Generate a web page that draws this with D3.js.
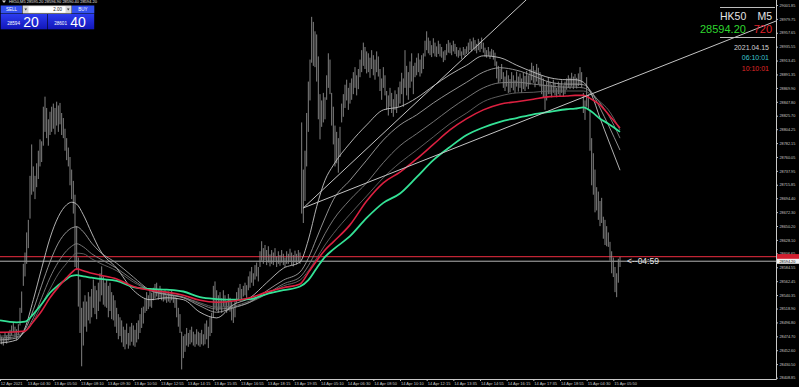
<!DOCTYPE html>
<html><head><meta charset="utf-8">
<script src="https://cdn.jsdelivr.net/npm/d3@7/dist/d3.min.js"></script>
<style>html,body{margin:0;padding:0;background:#000;overflow:hidden}svg{display:block}</style>
</head><body><svg id="c" width="799" height="387"></svg>
<script>
// ---------------- data ----------------
const symbol = "HK50", timeframe = "M5";
const headerText = "HK50,M5  28595.20 28596.90 28590.40 28594.20";
const bid = 28594.20, ask = 28601.40, spreadPts = "720";
const sellBig = ["28594", "20"], buyBig = ["28601", "40"], lotSize = "2.00";
const dateText = "2021.04.15", localTime = "06:10:01", serverTime = "10:10:01", countdown = "<--04:59";

const priceTicks = ["29001.85","28979.75","28957.65","28935.55","28913.45","28891.35","28869.90","28847.80",
  "28825.70","28804.25","28782.15","28760.05","28737.95","28715.85","28694.40","28672.30","28650.20",
  "28628.10","28606.65","28584.55","28562.45","28540.35","28518.90","28496.80","28474.70","28452.60",
  "28430.50","28408.85"];

const timeLabels = ["12 Apr 2021","13 Apr 04:30","13 Apr 05:50","13 Apr 08:10","13 Apr 09:30","13 Apr 10:50",
  "13 Apr 12:55","13 Apr 14:15","13 Apr 15:35","13 Apr 16:55","13 Apr 18:15","13 Apr 19:35","14 Apr 05:10",
  "14 Apr 06:30","14 Apr 08:50","14 Apr 10:10","14 Apr 12:15","14 Apr 13:35","14 Apr 14:55","14 Apr 16:15",
  "14 Apr 17:35","14 Apr 18:55","15 Apr 04:30","15 Apr 05:50"];
const barsPerLabel = 16;

// M5 bars: [high, low]
const bars = [
 [28478,28466],[28474,28462],[28472,28460],[28480,28466],[28476,28463],[28482,28468],
 [28485,28470],[28492,28476],[28496,28481],[28490,28474],[28486,28468],[28494,28476],
 [28520,28492],[28546,28512],
 [28590,28555],[28608,28570],
 [28640,28590],[28660,28615],
 [28730,28662],[28780,28700],
 [28745,28705],[28730,28693],[28750,28712],
 [28770,28725],[28788,28745],[28785,28752],
 [28840,28778],[28856,28800],
 [28838,28790],[28820,28778],[28832,28795],[28840,28800],
 [28845,28805],[28838,28796],[28848,28810],[28842,28800],[28846,28812],
 [28830,28795],[28822,28790],
 [28805,28770],[28790,28755],[28775,28745],
 [28760,28715],[28740,28693],
 [28722,28670],[28700,28585],
 [28650,28580],[28600,28522],
 [28565,28480],[28520,28427],[28530,28460],
 [28540,28490],[28530,28482],[28545,28500],[28538,28495],
 [28550,28505],[28565,28520],[28555,28510],[28548,28502],[28560,28515],
 [28575,28530],[28586,28540],[28570,28525],[28560,28522],
 [28565,28520],[28555,28505],[28560,28515],[28545,28502],[28540,28500],
 [28532,28490],[28520,28480],[28510,28470],[28505,28475],
 [28500,28465],[28490,28458],[28485,28454],[28495,28462],[28480,28455],[28490,28460],[28496,28466],
 [28492,28460],[28485,28458],[28496,28465],[28500,28470],
 [28510,28480],[28520,28488],[28522,28495],
 [28535,28512],[28545,28515],[28540,28518],[28548,28522],[28544,28520],
 [28552,28532],[28558,28535],[28560,28538],[28550,28533],[28555,28536],[28548,28532],
 [28545,28530],[28548,28532],[28540,28528],[28546,28530],[28543,28528],[28548,28532],[28540,28528],[28538,28520],
 [28536,28505],[28520,28490],[28510,28480],
 [28482,28422],[28475,28440],[28478,28450],
 [28488,28460],[28480,28458],[28485,28462],[28490,28465],[28482,28460],[28478,28458],[28486,28462],[28482,28460],
 [28480,28458],[28485,28462],[28478,28460],
 [28495,28462],[28500,28470],[28490,28456],[28505,28475],[28512,28480],
 [28555,28505],[28562,28520],[28548,28515],[28540,28512],
 [28545,28518],[28535,28512],[28548,28522],[28540,28515],[28530,28512],[28542,28516],[28536,28514],
 [28530,28500],[28520,28496],[28532,28505],
 [28545,28528],[28552,28532],[28558,28535],[28550,28533],[28555,28538],[28560,28540],[28556,28536],
 [28570,28548],[28578,28552],[28585,28560],[28575,28555],[28588,28565],[28592,28570],[28585,28562],
 [28610,28585],[28626,28595],[28615,28590],[28620,28596],[28612,28588],
 [28618,28592],[28605,28586],[28612,28590],[28608,28588],[28615,28595],[28602,28585],[28610,28590],
 [28604,28587],[28612,28592],[28606,28588],[28600,28585],[28610,28590],[28606,28590],[28614,28593],
 [28608,28588],[28604,28586],[28611,28592],[28606,28589],[28612,28594],[28608,28590],
 [28815,28670],[28740,28655],
 [28770,28690],
 [28830,28745],[28880,28800],[28915,28850],
 [28983,28910],[28975,28905],[28960,28903],
 [28955,28880],[28920,28820],[28860,28788],
 [28850,28808],[28862,28815],[28855,28820],
 [28890,28851],[28925,28870],[28915,28860],
 [28862,28810],[28840,28780],[28810,28745],[28800,28750],
 [28790,28735],[28808,28760],
 [28845,28815],[28860,28824],[28875,28838],[28883,28850],[28870,28835],[28878,28845],
 [28885,28851],[28895,28860],[28903,28870],[28890,28858],[28900,28868],
 [28915,28887],[28930,28895],[28942,28905],[28935,28900],[28928,28893],
 [28925,28895],[28918,28886],[28930,28900],[28922,28890],[28915,28883],[28928,28895],[28920,28888],
 [28900,28865],[28885,28851],[28903,28870],[28890,28858],
 [28865,28835],[28858,28826],[28870,28840],[28862,28830],[28852,28824],[28866,28835],[28860,28830],[28871,28840],
 [28880,28845],[28894,28860],[28885,28840],[28930,28870],[28905,28858],
 [28895,28851],[28912,28870],[28925,28880],[28905,28860],
 [28910,28887],[28918,28890],[28925,28895],[28915,28888],[28922,28893],[28925,28900],
 [28945,28920],[28960,28930],[28950,28925],
 [28945,28922],[28938,28919],[28949,28925],[28942,28920],[28936,28919],[28945,28924],[28940,28920],[28935,28918],
 [28928,28911],[28930,28914],
 [28940,28922],[28946,28926],[28942,28925],[28938,28922],[28945,28928],[28940,28924],
 [28935,28920],[28930,28918],[28934,28921],[28928,28916],[28935,28922],[28932,28919],[28936,28924],
 [28942,28926],[28948,28930],[28944,28928],[28950,28932],[28946,28929],[28940,28925],[28948,28930],[28944,28927],[28950,28932],[28942,28926],
 [28934,28920],[28930,28918],[28935,28921],[28928,28916],[28932,28920],[28930,28915],[28926,28905],
 [28912,28885],[28905,28878],[28900,28880],[28908,28884],
 [28895,28870],[28888,28865],[28898,28872],[28890,28862],[28884,28863],[28895,28870],[28890,28866],[28882,28862],
 [28896,28872],[28888,28864],[28893,28870],[28885,28862],[28894,28868],[28889,28865],[28897,28872],[28890,28868],
 [28900,28875],[28910,28882],[28905,28878],[28898,28871],[28908,28880],[28902,28876],[28895,28872],[28890,28860],
 [28885,28855],[28875,28835],[28880,28850],[28887,28860],
 [28880,28860],[28875,28855],[28883,28862],[28878,28858],[28870,28855],[28880,28860],[28876,28857],[28882,28862],[28874,28856],[28880,28860],
 [28885,28867],[28890,28870],[28886,28868],[28894,28872],[28888,28868],[28892,28872],[28886,28869],[28893,28873],
 [28903,28875],[28895,28871],
 [28862,28830],[28850,28819],
 [28887,28840],[28860,28835],
 [28835,28770],[28790,28715],[28766,28700],[28740,28672],
 [28712,28675],[28705,28660],[28690,28650],[28695,28655],
 [28665,28630],[28660,28620],[28650,28618],[28640,28617],
 [28625,28595],[28610,28575],[28600,28569],
 [28585,28545],[28575,28537],
 [28598,28560],[28601,28585]
];

// moving averages read at these bar indices
const maIdx = [0,10,15,20,25,30,35,40,43,46,50,55,60,70,80,90,100,110,120,130,140,150,160,170,180,185,190,195,200,210,
  220,230,240,250,260,270,280,290,300,310,320,330,340,345,350,355,360,365,372];
const maGray1 = [28464,28469,28488,28533,28583,28631,28665,28684,28688,28685,28668,28639,28612,28583,28548,28533,28536,28533,
  28513,28504,28525,28536,28560,28583,28593,28628,28681,28723,28747,28782,28811,28835,28840,28854,28873,28891,28906,28921,
  28918,28906,28895,28886,28883,28883,28879,28859,28822,28787,28739];
const maGray2 = [28469,28472,28485,28517,28556,28593,28623,28641,28647,28649,28641,28623,28609,28591,28569,28548,28541,28536,
  28523,28513,28520,28529,28547,28564,28577,28599,28631,28663,28692,28723,28755,28787,28811,28827,28846,28863,28879,28895,
  28902,28898,28889,28879,28876,28876,28875,28863,28838,28811,28771];
const maGray3 = [28472,28474,28482,28504,28536,28568,28593,28611,28618,28622,28617,28606,28598,28583,28564,28548,28542,28537,
  28526,28518,28521,28529,28542,28558,28569,28587,28612,28638,28660,28692,28719,28751,28778,28797,28816,28836,28854,28870,
  28878,28879,28876,28873,28871,28871,28870,28862,28846,28827,28790];
const maGray4 = [28475,28477,28482,28499,28525,28550,28574,28591,28601,28607,28606,28598,28591,28579,28561,28548,28542,28537,
  28528,28521,28523,28531,28542,28555,28564,28579,28599,28620,28638,28669,28698,28727,28751,28771,28792,28813,28830,28848,
  28857,28862,28863,28865,28865,28865,28865,28859,28848,28835,28803];
const maRed = [28481,28482,28483,28498,28515,28536,28553,28568,28576,28582,28579,28575,28572,28566,28554,28548,28545,28540,
  28532,28529,28531,28536,28545,28552,28558,28576,28595,28612,28625,28652,28690,28719,28736,28757,28780,28803,28821,28835,
  28844,28848,28852,28856,28857,28858,28858,28852,28843,28828,28806];
const maGreen = [28500,28497,28498,28510,28526,28544,28556,28566,28571,28572,28570,28568,28566,28563,28553,28550,28549,28546,
  28537,28534,28533,28534,28542,28548,28554,28564,28583,28601,28613,28634,28663,28687,28702,28728,28755,28776,28795,28807,
  28816,28822,28828,28832,28836,28837,28839,28832,28821,28813,28800];

// trend lines: [barIndex, price] anchor pairs (rays)
const trendSteep = [[182, 28679], [306, 28986]];
const trendFlat  = [[182, 28679], [306, 28809]];

// ---------------- drawing ----------------
const W = 799, H = 387, plotR = 776, plotB = 379;
const svg = d3.select("#c");
const font = "'Liberation Sans', Arial, sans-serif";
svg.append("rect").attr("width", W).attr("height", H).attr("fill", "#000");

const x = d3.scaleLinear().domain([0, 372]).range([0, 620]);
const y = d3.scaleLinear().domain([28408.85, 29001.85]).range([377.7, 5]);

const defs = svg.append("defs");
defs.append("clipPath").attr("id", "clip").append("rect").attr("x", 0).attr("y", 0).attr("width", plotR).attr("height", plotB);
const gSell = defs.append("linearGradient").attr("id", "boxg").attr("x1", 0).attr("y1", 0).attr("x2", 0).attr("y2", 1);
gSell.append("stop").attr("offset", "0%").attr("stop-color", "#2c3cf0");
gSell.append("stop").attr("offset", "100%").attr("stop-color", "#1216b8");

const plot = svg.append("g").attr("clip-path", "url(#clip)");

// bid / ask lines
plot.append("line").attr("x1", 0).attr("x2", plotR).attr("y1", y(ask)).attr("y2", y(ask))
  .attr("stroke", "#c02434").attr("stroke-width", 1.2);
plot.append("line").attr("x1", 0).attr("x2", plotR).attr("y1", y(bid)).attr("y2", y(bid))
  .attr("stroke", "#b4b4b4").attr("stroke-width", 1);

// bars
plot.append("g").selectAll("line").data(bars).join("line")
  .attr("x1", (d, i) => x(i)).attr("x2", (d, i) => x(i))
  .attr("y1", d => y(d[0])).attr("y2", d => y(d[1]))
  .attr("stroke", "#8e8e8e").attr("stroke-width", 0.9);

// moving averages
const maLine = d3.line().x((d, i) => x(maIdx[i])).y(d => y(d)).curve(d3.curveMonotoneX);
const mas = [
  [maGray4, "#666666", 0.9], [maGray3, "#828282", 0.9], [maGray2, "#a0a0a0", 0.9], [maGray1, "#c4c4c4", 0.9],
  [maGreen, "#34e296", 1.8], [maRed, "#dc2040", 1.6]
];
mas.forEach(([vals, col, w]) => {
  plot.append("path").attr("d", maLine(vals)).attr("fill", "none").attr("stroke", col).attr("stroke-width", w);
});

// trend lines (rays)
function ray(pts) {
  const x1 = x(pts[0][0]), y1 = y(pts[0][1]), x2 = x(pts[1][0]), y2 = y(pts[1][1]);
  const k = (y2 - y1) / (x2 - x1);
  const xe = 1200;
  return [x1, y1, xe, y1 + k * (xe - x1)];
}
[trendSteep, trendFlat].forEach(t => {
  const r = ray(t);
  plot.append("line").attr("x1", r[0]).attr("y1", r[1]).attr("x2", r[2]).attr("y2", r[3])
    .attr("stroke", "#c4c4c4").attr("stroke-width", 1);
});

// countdown text
svg.append("text").attr("x", 627).attr("y", y(bid) + 2.8).attr("fill", "#e6e6e6")
  .attr("font-family", font).attr("font-size", 8.5).text(countdown);

// price axis
const yAxis = d3.axisRight(y).tickValues(priceTicks.map(Number))
  .tickFormat((d, i) => priceTicks[i]).tickSize(2).tickPadding(1.5);
const ya = svg.append("g").attr("transform", `translate(${plotR},0)`).call(yAxis);
ya.select(".domain").remove();
ya.selectAll("line").attr("stroke", "#bdbdbd");
ya.selectAll("text").attr("fill", "#c8c8c8").attr("font-family", font).attr("font-size", 3.8);

// time axis
const labelIdx = timeLabels.map((d, i) => i * barsPerLabel);
const xAxis = d3.axisBottom(x).tickValues(labelIdx).tickFormat((d, i) => timeLabels[i]).tickSize(2).tickPadding(1);
const xa = svg.append("g").attr("transform", `translate(0,${plotB})`).call(xAxis);
xa.select(".domain").remove();
xa.selectAll("line").attr("stroke", "#bdbdbd");
xa.selectAll("text").attr("fill", "#c8c8c8").attr("font-family", font).attr("font-size", 4)
  .attr("text-anchor", "start").attr("dx", (d, i) => i === 0 ? 0.3 : 0.5);

// frame
svg.append("line").attr("x1", plotR + 0.5).attr("x2", plotR + 0.5).attr("y1", 0).attr("y2", plotB + 0.5)
  .attr("stroke", "#c8c8c8").attr("stroke-width", 1);
svg.append("line").attr("x1", 0).attr("x2", plotR + 0.5).attr("y1", plotB + 0.5).attr("y2", plotB + 0.5)
  .attr("stroke", "#c8c8c8").attr("stroke-width", 1);

// ask / bid boxes on the axis
svg.append("rect").attr("x", plotR + 1).attr("y", y(ask) - 2.6).attr("width", W - plotR).attr("height", 5.2).attr("fill", "#d01f2f");
svg.append("rect").attr("x", plotR + 1).attr("y", y(bid) - 2.4).attr("width", W - plotR).attr("height", 5).attr("fill", "#f2f2f2");
svg.append("text").attr("x", plotR + 3.5).attr("y", y(bid) + 1.4).attr("fill", "#000").attr("font-family", font)
  .attr("font-size", 3.8).text(bid.toFixed(2));

// header line
svg.append("path").attr("d", "M2,0.5 L6,0.5 L4,3 Z").attr("fill", "#d0d0d0");
svg.append("text").attr("x", 9).attr("y", 3.2).attr("fill", "#e0e0e0").attr("font-family", font)
  .attr("font-size", 4).text(headerText);

// one-click trading panel
const p = svg.append("g");
p.append("rect").attr("x", 0.7).attr("y", 5.5).attr("width", 21.5).attr("height", 8).attr("fill", "#3350ee");
p.append("text").attr("x", 11.5).attr("y", 11).attr("text-anchor", "middle").attr("fill", "#fff")
  .attr("font-family", font).attr("font-size", 4.5).text("SELL");
p.append("rect").attr("x", 22.6).attr("y", 5.5).attr("width", 49).attr("height", 8).attr("fill", "#d8d8d8");
p.append("rect").attr("x", 28.5).attr("y", 6.3).attr("width", 37).attr("height", 6.4).attr("fill", "#ffffff");
p.append("path").attr("d", "M24.5,8.6 L27,8.6 L25.75,10.4 Z").attr("fill", "#333");
p.append("path").attr("d", "M67,8.6 L69.5,8.6 L68.25,10.4 Z").attr("fill", "#333");
p.append("text").attr("x", 62).attr("y", 11).attr("text-anchor", "end").attr("fill", "#222")
  .attr("font-family", font).attr("font-size", 4.5).text(lotSize);
p.append("rect").attr("x", 72).attr("y", 5.5).attr("width", 22.3).attr("height", 8).attr("fill", "#3350ee");
p.append("text").attr("x", 83).attr("y", 11).attr("text-anchor", "middle").attr("fill", "#fff")
  .attr("font-family", font).attr("font-size", 4.5).text("BUY");
[[0.7, sellBig], [47.7, buyBig]].forEach(([bx, txt]) => {
  p.append("rect").attr("x", bx).attr("y", 14).attr("width", 46.5).attr("height", 15.3).attr("fill", "url(#boxg)");
  p.append("text").attr("x", bx + 6.5).attr("y", 25.3).attr("fill", "#fff").attr("font-family", font)
    .attr("font-size", 4.6).text(txt[0]);
  p.append("text").attr("x", bx + 22.5).attr("y", 27.3).attr("fill", "#fff").attr("font-family", font)
    .attr("font-size", 14).text(txt[1]);
});

// info panel (top right)
const ip = svg.append("g").attr("font-family", font);
ip.append("line").attr("x1", 720).attr("x2", 775).attr("y1", 7.5).attr("y2", 7.5).attr("stroke", "#bdbdbd");
ip.append("line").attr("x1", 720).attr("x2", 775).attr("y1", 37.5).attr("y2", 37.5).attr("stroke", "#bdbdbd");
ip.append("text").attr("x", 720).attr("y", 19.5).attr("fill", "#e4e4e4").attr("font-size", 10.5).text(symbol);
ip.append("text").attr("x", 772).attr("y", 19.5).attr("text-anchor", "end").attr("fill", "#e4e4e4").attr("font-size", 10.5).text(timeframe);
ip.append("text").attr("x", 700).attr("y", 32.5).attr("fill", "#2fd62f").attr("font-size", 11).text(bid.toFixed(2));
ip.append("text").attr("x", 772).attr("y", 32.5).attr("text-anchor", "end").attr("fill", "#e0202a").attr("font-size", 11).text(spreadPts);
ip.append("text").attr("x", 769).attr("y", 49.5).attr("text-anchor", "end").attr("fill", "#d4d4d4").attr("font-size", 7).text(dateText);
ip.append("text").attr("x", 769).attr("y", 60.3).attr("text-anchor", "end").attr("fill", "#3cc6cf").attr("font-size", 7).text(localTime);
ip.append("text").attr("x", 769).attr("y", 71).attr("text-anchor", "end").attr("fill", "#e02828").attr("font-size", 7).text(serverTime);
</script></body></html>
